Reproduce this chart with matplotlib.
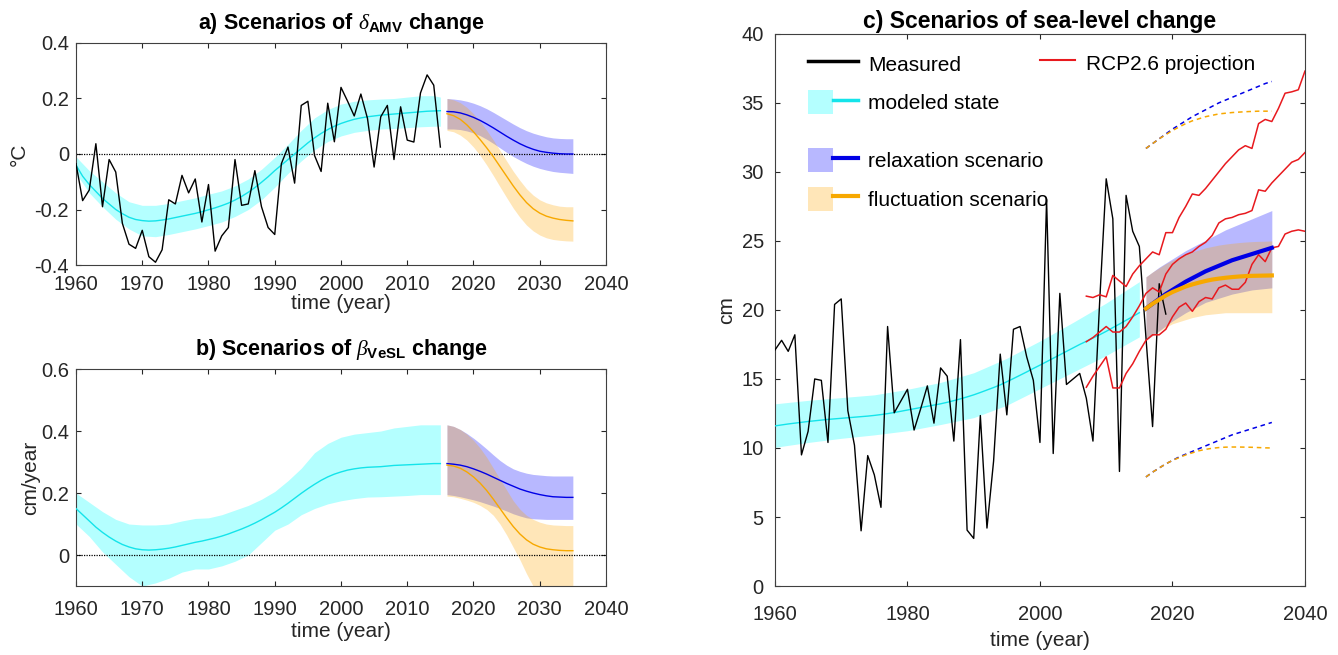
import numpy as np
import matplotlib
matplotlib.use('Agg')
import matplotlib.pyplot as plt
from matplotlib.patches import Patch
from matplotlib.lines import Line2D
from matplotlib.legend_handler import HandlerTuple
from matplotlib.ticker import FormatStrFormatter

plt.rcParams['font.family'] = ['Liberation Sans', 'DejaVu Sans']
plt.rcParams['axes.unicode_minus'] = False
plt.rcParams['mathtext.fontset'] = 'custom'
plt.rcParams['mathtext.rm'] = 'Liberation Sans'
plt.rcParams['mathtext.it'] = 'Liberation Serif:italic'
plt.rcParams['mathtext.bf'] = 'Liberation Sans:bold'
plt.rcParams['xtick.direction'] = 'in'
plt.rcParams['ytick.direction'] = 'in'
plt.rcParams['xtick.top'] = True
plt.rcParams['ytick.right'] = True

# ---- years ----
hist_years = np.arange(1960, 2016)
band_years = np.append(np.arange(1960, 2015, 2), 2015)
scen_years = np.arange(2016, 2036)
obs_years_sl = np.arange(1960, 2020)
band_years_sl = np.append(np.arange(1960, 2015, 5), 2015)
rcp_years = np.arange(2007, 2041)

# ---- a) AMV ----
amv_obs = [-0.035, -0.168, -0.13, 0.037, -0.19, -0.02, -0.065, -0.25, -0.325, -0.34,
           -0.275, -0.37, -0.39, -0.345, -0.165, -0.18, -0.077, -0.14, -0.09, -0.245,
           -0.11, -0.35, -0.295, -0.265, -0.02, -0.185, -0.18, -0.06, -0.19, -0.265,
           -0.29, -0.035, 0.025, -0.105, 0.175, 0.19, -0.005, -0.063, 0.183, 0.044,
           0.24, 0.19, 0.137, 0.216, 0.128, -0.047, 0.134, 0.175, -0.02, 0.17,
           0.05, 0.043, 0.22, 0.285, 0.248, 0.025]
amv_mod = [-0.04, -0.08, -0.11, -0.135, -0.16, -0.18, -0.20, -0.215, -0.228, -0.236,
           -0.24, -0.242, -0.241, -0.238, -0.234, -0.229, -0.224, -0.219, -0.214, -0.208,
           -0.201, -0.194, -0.186, -0.177, -0.166, -0.153, -0.138, -0.121, -0.102, -0.082,
           -0.06, -0.04, -0.02, 0.0, 0.02, 0.04, 0.058, 0.074, 0.088, 0.10,
           0.11, 0.118, 0.125, 0.13, 0.134, 0.137, 0.14, 0.142, 0.144, 0.146,
           0.148, 0.15, 0.152, 0.154, 0.155, 0.156]
amv_mod_hi = [-0.01, -0.06, -0.10, -0.14, -0.172, -0.185, -0.185, -0.178, -0.168, -0.158,
              -0.145, -0.133, -0.115, -0.09, -0.055, -0.012, 0.035, 0.085, 0.13, 0.16,
              0.18, 0.19, 0.195, 0.198, 0.2, 0.205, 0.21, 0.21, 0.205]
amv_mod_lo = [-0.07, -0.14, -0.19, -0.235, -0.27, -0.295, -0.298, -0.29, -0.28, -0.27,
              -0.258, -0.245, -0.225, -0.2, -0.165, -0.12, -0.07, -0.025, 0.015, 0.045,
              0.065, 0.078, 0.085, 0.09, 0.092, 0.095, 0.098, 0.1, 0.1]
amv_relax = [0.153, 0.152, 0.148, 0.141, 0.132, 0.121, 0.108, 0.094, 0.079, 0.064,
             0.050, 0.037, 0.026, 0.017, 0.010, 0.006, 0.003, 0.001, 0.0, 0.0]
amv_relax_hi = [0.2, 0.198, 0.195, 0.19, 0.183, 0.174, 0.163, 0.15, 0.136, 0.122,
                0.108, 0.095, 0.084, 0.075, 0.068, 0.062, 0.058, 0.056, 0.055, 0.055]
amv_relax_lo = [0.09, 0.09, 0.088, 0.083, 0.076, 0.066, 0.053, 0.038, 0.022, 0.006,
                -0.009, -0.022, -0.034, -0.044, -0.052, -0.058, -0.063, -0.066, -0.068, -0.07]
amv_fluct = [0.145, 0.138, 0.125, 0.105, 0.080, 0.052, 0.022, -0.010, -0.045, -0.080,
             -0.115, -0.147, -0.175, -0.197, -0.213, -0.224, -0.231, -0.236, -0.239, -0.241]
amv_fluct_hi = [0.2, 0.195, 0.185, 0.168, 0.145, 0.117, 0.085, 0.05, 0.013, -0.025,
                -0.062, -0.095, -0.125, -0.148, -0.165, -0.176, -0.183, -0.188, -0.19, -0.19]
amv_fluct_lo = [0.085, 0.08, 0.068, 0.05, 0.025, -0.005, -0.04, -0.078, -0.118, -0.157,
                -0.195, -0.228, -0.256, -0.277, -0.292, -0.302, -0.308, -0.311, -0.313, -0.314]

# ---- b) VeSL ----
vesl_mod = [0.15, 0.13, 0.11, 0.09, 0.073, 0.058, 0.045, 0.034, 0.026, 0.02,
            0.017, 0.016, 0.017, 0.019, 0.022, 0.026, 0.031, 0.036, 0.041, 0.045,
            0.05, 0.055, 0.061, 0.068, 0.076, 0.084, 0.093, 0.103, 0.114, 0.126,
            0.138, 0.152, 0.167, 0.183, 0.199, 0.214, 0.228, 0.241, 0.252, 0.261,
            0.268, 0.274, 0.278, 0.281, 0.283, 0.284, 0.285, 0.287, 0.289, 0.29,
            0.291, 0.292, 0.293, 0.294, 0.295, 0.295]
vesl_mod_hi = [0.2, 0.17, 0.14, 0.115, 0.1, 0.097, 0.097, 0.1, 0.11, 0.118,
               0.12, 0.13, 0.145, 0.16, 0.18, 0.205, 0.24, 0.28, 0.33, 0.36,
               0.38, 0.39, 0.395, 0.4, 0.41, 0.415, 0.42, 0.42, 0.42]
vesl_mod_lo = [0.1, 0.06, 0.01, -0.03, -0.07, -0.1, -0.09, -0.075, -0.055, -0.045,
               -0.045, -0.035, -0.02, 0.0, 0.04, 0.08, 0.1, 0.13, 0.15, 0.165,
               0.175, 0.182, 0.187, 0.188, 0.19, 0.192, 0.195, 0.195, 0.195]
vesl_relax = [0.295, 0.293, 0.29, 0.285, 0.278, 0.27, 0.261, 0.251, 0.241, 0.231,
              0.222, 0.213, 0.206, 0.2, 0.195, 0.191, 0.188, 0.187, 0.186, 0.186]
vesl_relax_hi = [0.42, 0.415, 0.405, 0.392, 0.377, 0.36, 0.342, 0.323, 0.305, 0.29,
                 0.278, 0.27, 0.264, 0.26, 0.258, 0.256, 0.255, 0.255, 0.255, 0.255]
vesl_relax_lo = [0.195, 0.192, 0.188, 0.183, 0.178, 0.172, 0.165, 0.158, 0.15, 0.142,
                 0.133, 0.126, 0.12, 0.117, 0.116, 0.115, 0.115, 0.115, 0.115, 0.115]
vesl_fluct = [0.29, 0.287, 0.28, 0.268, 0.252, 0.232, 0.208, 0.18, 0.15, 0.12,
              0.092, 0.068, 0.049, 0.035, 0.026, 0.02, 0.017, 0.015, 0.014, 0.014]
vesl_fluct_hi = [0.42, 0.415, 0.405, 0.39, 0.37, 0.345, 0.315, 0.28, 0.245, 0.21,
                 0.175, 0.148, 0.128, 0.115, 0.106, 0.1, 0.097, 0.096, 0.095, 0.095]
vesl_fluct_lo = [0.19, 0.188, 0.183, 0.177, 0.17, 0.16, 0.147, 0.128, 0.1, 0.065,
                 0.025, -0.015, -0.06, -0.1, -0.13, -0.15, -0.16, -0.165, -0.168, -0.17]

# ---- c) sea level ----
sl_obs = [17.1, 17.8, 17.0, 18.2, 9.5, 11.2, 15.0, 14.9, 10.4, 20.4,
          20.8, 12.7, 10.2, 4.0, 9.45, 8.05, 5.7, 18.8, 12.55, 13.4,
          14.25, 11.3, 12.85, 14.5, 11.8, 15.8, 15.2, 10.5, 17.85, 4.05,
          3.45, 12.35, 4.2, 9.05, 16.8, 12.4, 18.6, 18.8, 16.6, 14.9,
          10.4, 28.0, 9.6, 21.2, 14.6, 15.0, 15.4, 13.6, 10.5, 20.5,
          29.5, 26.6, 8.3, 28.3, 25.7, 24.6, 18.0, 11.55, 21.9, 19.7]
sl_mod = [11.6, 11.67, 11.74, 11.8, 11.86, 11.92, 11.97, 12.02, 12.07, 12.11,
          12.15, 12.19, 12.23, 12.27, 12.31, 12.36, 12.42, 12.49, 12.57, 12.66,
          12.75, 12.84, 12.93, 13.02, 13.11, 13.2, 13.31, 13.43, 13.56, 13.7,
          13.85, 14.02, 14.2, 14.38, 14.57, 14.8, 15.03, 15.27, 15.51, 15.76,
          16.0, 16.25, 16.5, 16.75, 17.0, 17.25, 17.5, 17.73, 17.97, 18.2,
          18.45, 18.72, 18.98, 19.25, 19.52, 19.8]
sl_mod_hi = [13.2, 13.45, 13.65, 13.85, 14.25, 14.75, 15.45, 16.5, 17.75, 19.1, 20.5, 22.05]
sl_mod_lo = [10.05, 10.4, 10.7, 10.95, 11.25, 11.7, 12.2, 13.1, 14.3, 15.5, 16.7, 18.05]
sl_relax = [20.1, 20.45, 20.8, 21.15, 21.45, 21.75, 22.05, 22.3, 22.55, 22.8,
            23.0, 23.2, 23.4, 23.6, 23.75, 23.9, 24.05, 24.2, 24.35, 24.5]
sl_relax_hi = [22.4, 22.75, 23.1, 23.4, 23.7, 24.0, 24.3, 24.55, 24.8, 25.05,
               25.3, 25.55, 25.8, 26.0, 26.2, 26.4, 26.6, 26.8, 27.0, 27.2]
sl_relax_lo = [17.8, 18.15, 18.5, 18.85, 19.2, 19.5, 19.8, 20.05, 20.3, 20.55,
               20.7, 20.85, 21.0, 21.15, 21.25, 21.35, 21.45, 21.5, 21.55, 21.6]
sl_fluct = [20.1, 20.45, 20.75, 21.05, 21.3, 21.5, 21.7, 21.85, 21.98, 22.1,
            22.2, 22.27, 22.33, 22.38, 22.42, 22.45, 22.47, 22.48, 22.49, 22.5]
sl_fluct_hi = [22.4, 22.75, 23.05, 23.35, 23.6, 23.85, 24.05, 24.2, 24.35, 24.5,
               24.6, 24.7, 24.77, 24.83, 24.88, 24.92, 24.95, 24.97, 24.98, 25.0]
sl_fluct_lo = [17.8, 18.15, 18.45, 18.75, 19.0, 19.15, 19.3, 19.45, 19.55, 19.65,
               19.7, 19.75, 19.8, 19.8, 19.8, 19.8, 19.8, 19.8, 19.8, 19.8]
sl_relax_up95 = [31.7, 32.05, 32.4, 32.75, 33.1, 33.4, 33.7, 34.0, 34.25, 34.5,
                 34.75, 35.0, 35.2, 35.4, 35.6, 35.8, 36.0, 36.2, 36.4, 36.55]
sl_fluct_up95 = [31.7, 32.05, 32.4, 32.7, 33.0, 33.25, 33.5, 33.7, 33.85, 34.0,
                 34.1, 34.2, 34.25, 34.3, 34.33, 34.36, 34.38, 34.4, 34.4, 34.4]
sl_relax_lo95 = [7.9, 8.25, 8.55, 8.85, 9.1, 9.35, 9.55, 9.75, 9.95, 10.15,
                 10.35, 10.55, 10.75, 10.95, 11.1, 11.25, 11.4, 11.55, 11.7, 11.85]
sl_fluct_lo95 = [7.9, 8.25, 8.55, 8.85, 9.1, 9.3, 9.5, 9.65, 9.8, 9.9,
                 9.98, 10.03, 10.06, 10.07, 10.07, 10.06, 10.05, 10.03, 10.01, 10.0]
rcp_hi = [21.0, 20.9, 21.1, 20.95, 22.5, 22.1, 21.7, 22.6, 23.2, 23.7,
          24.2, 24.0, 25.6, 25.6, 26.7, 27.5, 28.4, 28.3, 28.8, 29.4,
          30.0, 30.6, 31.1, 31.6, 31.9, 31.7, 33.5, 33.8, 33.65, 34.6,
          35.7, 35.8, 35.95, 37.3]
rcp_mid = [17.7, 18.0, 18.4, 18.8, 18.4, 18.4, 18.8, 19.5, 20.3, 21.2,
           21.6, 21.3, 22.6, 23.3, 23.7, 24.0, 24.2, 24.6, 24.9, 25.4,
           26.3, 26.6, 26.7, 26.9, 27.0, 27.2, 28.7, 28.6, 29.2, 29.7,
           30.2, 30.7, 30.9, 31.4]
rcp_lo = [14.4, 15.2, 15.9, 16.6, 14.35, 14.35, 15.4, 16.1, 17.0, 17.8,
          18.2, 18.2, 18.6, 19.5, 20.2, 20.5, 19.9, 20.6, 20.9, 20.8,
          21.6, 21.8, 21.5, 21.5, 22.0, 23.3, 24.0, 23.5, 24.5, 24.6,
          25.5, 25.7, 25.8, 25.7]

# ---- colours ----
cyan = '#14e4ea'
cyan_fill = '#b4ffff'
blue = '#0000e6'
orange = '#f7a800'
blue_fill = (0.0, 0.0, 1.0, 0.28)
orange_fill = (1.0, 0.66, 0.0, 0.28)
red = '#e8191e'
txt = '#262626'

fig = plt.figure(figsize=(13.38, 6.55), dpi=100)
ax_a = fig.add_axes([0.0568, 0.5954, 0.3961, 0.339])
ax_b = fig.add_axes([0.0568, 0.1053, 0.3961, 0.3313])
ax_c = fig.add_axes([0.5792, 0.1053, 0.3961, 0.843])


def style(ax, fs=14.5):
    for s in ax.spines.values():
        s.set_color('#404040')
        s.set_linewidth(0.8)
    ax.tick_params(colors=txt, labelsize=fs, length=3.5, width=0.8)
    ax.xaxis.label.set_color(txt)
    ax.yaxis.label.set_color(txt)


def scenario_panel(ax, mod, hi, lo, r, r_hi, r_lo, f, f_hi, f_lo):
    ax.fill_between(band_years, lo, hi, color=cyan_fill, lw=0, zorder=1)
    ax.plot(hist_years, mod, color=cyan, lw=1.0, zorder=3)
    ax.fill_between(scen_years, r_lo, r_hi, color=blue_fill, lw=0, zorder=1)
    ax.fill_between(scen_years, f_lo, f_hi, color=orange_fill, lw=0, zorder=1)
    ax.plot(scen_years, r, color=blue, lw=1.0, zorder=3)
    ax.plot(scen_years, f, color=orange, lw=1.0, zorder=3)
    ax.axhline(0, color='k', lw=0.9, ls=(0, (1, 1)), zorder=2)
    ax.set_xlim(1960, 2040)
    ax.set_xticks(np.arange(1960, 2041, 10))
    ax.yaxis.set_major_formatter(FormatStrFormatter('%g'))
    style(ax)
    ax.tick_params(axis='y', pad=5)


# a)
scenario_panel(ax_a, amv_mod, amv_mod_hi, amv_mod_lo, amv_relax, amv_relax_hi, amv_relax_lo,
               amv_fluct, amv_fluct_hi, amv_fluct_lo)
ax_a.plot(hist_years, amv_obs, color='k', lw=1.0, zorder=4)
ax_a.set_ylim(-0.4, 0.4)
ax_a.set_yticks([-0.4, -0.2, 0, 0.2, 0.4])
ax_a.tick_params(axis='x', pad=7)
ax_a.set_ylabel('°C', fontsize=15, labelpad=4)
ax_a.set_xlabel('time (year)', fontsize=15, labelpad=0)
ax_a.set_title(r'a) Scenarios of $\delta_{\mathbf{AMV}}$ change', fontsize=15.5,
               fontweight='bold', pad=10)

# b)
scenario_panel(ax_b, vesl_mod, vesl_mod_hi, vesl_mod_lo, vesl_relax, vesl_relax_hi, vesl_relax_lo,
               vesl_fluct, vesl_fluct_hi, vesl_fluct_lo)
ax_b.set_ylim(-0.1, 0.6)
ax_b.set_yticks([0, 0.2, 0.4, 0.6])
ax_b.tick_params(axis='x', pad=10)
ax_b.set_ylabel('cm/year', fontsize=15, labelpad=1)
ax_b.set_xlabel('time (year)', fontsize=15, labelpad=2)
ax_b.set_title(r'b) Scenarios of $\beta_{\mathbf{VeSL}}$ change', fontsize=15.5,
               fontweight='bold', pad=10)

# c)
ax_c.fill_between(band_years_sl, sl_mod_lo, sl_mod_hi, color=cyan_fill, lw=0, zorder=1)
ax_c.plot(hist_years, sl_mod, color=cyan, lw=1.0, zorder=3)
ax_c.fill_between(scen_years, sl_relax_lo, sl_relax_hi, color=blue_fill, lw=0, zorder=1)
ax_c.fill_between(scen_years, sl_fluct_lo, sl_fluct_hi, color=orange_fill, lw=0, zorder=1)
ax_c.plot(obs_years_sl, sl_obs, color='k', lw=1.0, zorder=4)
for rc in (rcp_hi, rcp_mid, rcp_lo):
    ax_c.plot(rcp_years, rc, color=red, lw=1.1, zorder=4)
ax_c.plot(scen_years, sl_relax, color=blue, lw=3.0, zorder=5)
ax_c.plot(scen_years, sl_fluct, color=orange, lw=3.0, zorder=5)
for d, col in ((sl_relax_up95, blue), (sl_fluct_up95, orange),
               (sl_relax_lo95, blue), (sl_fluct_lo95, orange)):
    ax_c.plot(scen_years, d, color=col, lw=1.1, ls=(0, (3, 2.5)), zorder=5)
ax_c.set_xlim(1960, 2040)
ax_c.set_ylim(0, 40)
ax_c.set_xticks(np.arange(1960, 2041, 20))
ax_c.set_yticks(np.arange(0, 41, 5))
style(ax_c)
ax_c.tick_params(axis='x', pad=14)
ax_c.tick_params(axis='y', pad=8)
ax_c.set_ylabel('cm', fontsize=15, labelpad=4)
ax_c.set_xlabel('time (year)', fontsize=15, labelpad=5)
ax_c.set_title('c) Scenarios of sea-level change', fontsize=16.5, fontweight='bold', pad=4)

# legends
hmap = {tuple: HandlerTuple(ndivide=None)}
leg_kw = dict(frameon=False, fontsize=15, borderpad=0, borderaxespad=0,
              handletextpad=0.5, handleheight=1.4, labelspacing=0.7, handler_map=hmap)
h_meas = Line2D([], [], color='k', lw=2.5)
h_mod = (Patch(fc=cyan_fill, ec='none'), Line2D([], [], color=cyan, lw=2.5))
leg1 = ax_c.legend([h_meas, h_mod], ['Measured', 'modeled state'], loc='center left',
                   bbox_to_anchor=(0.062, 0.911), handlelength=2.4, **leg_kw)
ax_c.add_artist(leg1)
h_rel = (Patch(fc=blue_fill, ec='none'), Line2D([], [], color=blue, lw=3))
h_flu = (Patch(fc=orange_fill, ec='none'), Line2D([], [], color=orange, lw=3))
leg2 = ax_c.legend([h_rel, h_flu], ['relaxation scenario', 'fluctuation scenario'],
                   loc='center left', bbox_to_anchor=(0.062, 0.736), handlelength=2.4, **leg_kw)
ax_c.add_artist(leg2)
h_rcp = Line2D([], [], color=red, lw=1.5)
ax_c.legend([h_rcp], ['RCP2.6 projection'], loc='center left', bbox_to_anchor=(0.5, 0.948),
            handlelength=1.7, **leg_kw)

fig.savefig('out.png', dpi=100)
